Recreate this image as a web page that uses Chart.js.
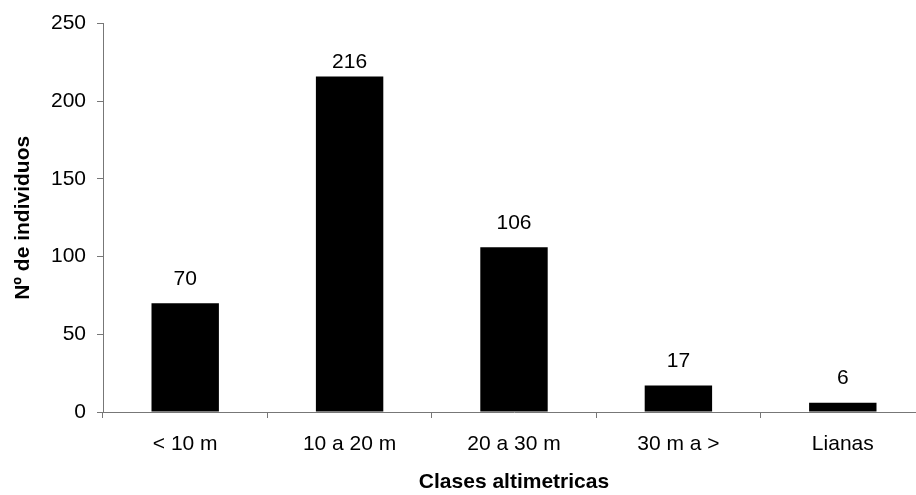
<!DOCTYPE html>
<html>
<head>
<meta charset="utf-8">
<script src="https://cdn.jsdelivr.net/npm/chart.js@4"></script>
<style>
  html, body { margin: 0; padding: 0; background: #fff; overflow: hidden; }
  #grafica { display: block; }
</style>
</head>
<body>
<canvas id="grafica" width="925" height="495"></canvas>
<script>
const clases = ['< 10 m', '10 a 20 m', '20 a 30 m', '30 m a >', 'Lianas'];
const individuos = [70, 216, 106, 17, 6];
const yMin = 0;
const yMax = 250;
const yPaso = 50;

const fuente = "'Liberation Sans', Arial, sans-serif";
const gris = '#777';

// etiquetas de valor encima de cada barra (la mas alta queda pegada al borde superior)
const etiquetas = {
  id: 'etiquetas',
  afterDatasetsDraw(chart) {
    const ctx = chart.ctx;
    const meta = chart.getDatasetMeta(0);
    ctx.save();
    ctx.font = '21px ' + fuente;
    ctx.fillStyle = '#000';
    ctx.textAlign = 'center';
    ctx.textBaseline = 'alphabetic';
    meta.data.forEach(function (bar, i) {
      const y = Math.max(bar.y - 18.5, chart.chartArea.top + 44);
      ctx.fillText(String(individuos[i]), bar.x, y);
    });
    ctx.restore();
  }
};

const ctx = document.getElementById('grafica').getContext('2d');
const grafica = new Chart(ctx, {
  type: 'bar',
  data: {
    labels: clases,
    datasets: [{
      data: individuos,
      backgroundColor: '#000',
      borderWidth: 0,
      categoryPercentage: 1,
      barPercentage: 0.41
    }]
  },
  options: {
    responsive: false,
    animation: false,
    layout: { padding: { top: 21, right: 0, bottom: 0, left: 0 } },
    plugins: {
      legend: { display: false },
      tooltip: { enabled: false }
    },
    scales: {
      x: {
        afterFit(scale) { scale.height = 83; },
        grid: { drawOnChartArea: false, drawTicks: true, tickLength: 6, color: gris },
        border: { display: true, color: gris, width: 1 },
        ticks: { color: '#000', padding: 14, font: { family: fuente, size: 21 }, maxRotation: 0 },
        title: {
          display: true,
          text: 'Clases altimetricas',
          color: '#000',
          padding: { top: 0, bottom: 0 },
          font: { family: fuente, size: 21, weight: 'bold' }
        }
      },
      y: {
        min: yMin,
        max: yMax,
        afterFit(scale) { scale.width = 103; },
        grid: { drawOnChartArea: false, drawTicks: true, tickLength: 6, color: gris },
        border: { display: true, color: gris, width: 1 },
        ticks: { stepSize: yPaso, color: '#000', padding: 11, font: { family: fuente, size: 21 } },
        title: {
          display: true,
          text: 'Nº de individuos',
          color: '#000',
          padding: { top: 11, bottom: 0 },
          font: { family: fuente, size: 21, weight: 'bold' }
        }
      }
    }
  },
  plugins: [etiquetas]
});
</script>
</body>
</html>
